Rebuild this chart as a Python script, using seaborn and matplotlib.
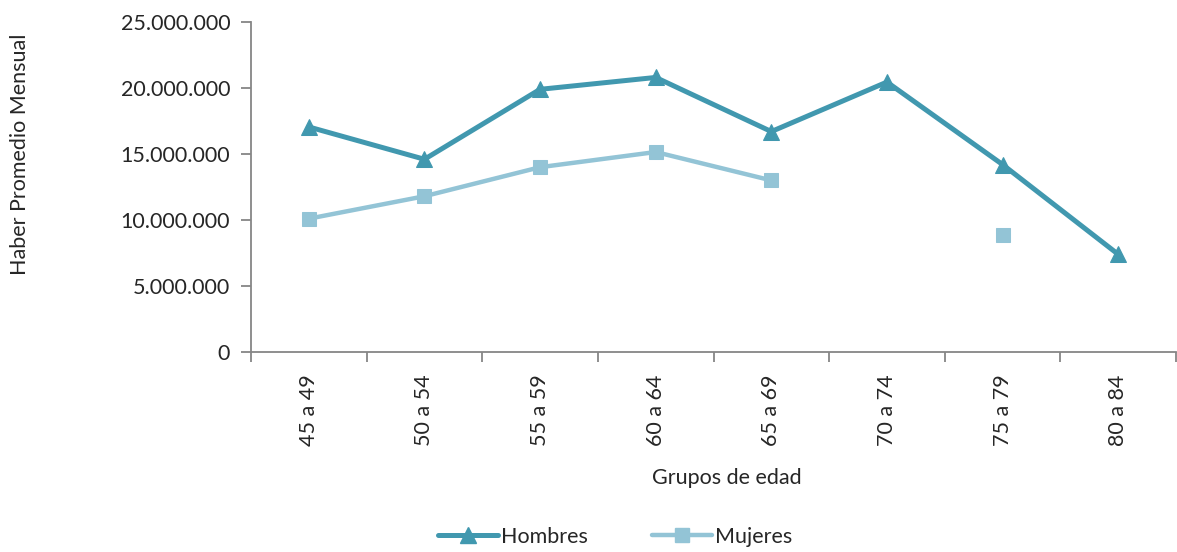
import numpy as np
import pandas as pd
import seaborn as sns
import matplotlib.pyplot as plt
from matplotlib.lines import Line2D
from matplotlib.ticker import FuncFormatter, FixedLocator

grupos = ['45 a 49', '50 a 54', '55 a 59', '60 a 64', '65 a 69', '70 a 74', '75 a 79', '80 a 84']
hombres = [17050000, 14600000, 19900000, 20800000, 16700000, 20450000, 14200000, 7400000]
mujeres = [10100000, 11800000, 14000000, 15150000, 13000000, np.nan, 8900000, np.nan]

sns.set_style('white')
plt.rcParams['font.family'] = ['Lato', 'DejaVu Sans']

df = pd.DataFrame({'pos': np.arange(len(grupos)), 'Hombres': hombres, 'Mujeres': mujeres})
# gaps: split series into segments where values are missing
df['tramo_h'] = df['Hombres'].isna().cumsum()
df['tramo_m'] = df['Mujeres'].isna().cumsum()

fig = plt.figure(figsize=(11.77, 5.52), dpi=100)
ax = fig.add_axes([251 / 1177, 1 - 352 / 552, (1176 - 251) / 1177, 330 / 552])

c_h = '#4198AF'
c_m = '#93C4D6'
sty_h = dict(color=c_h, lw=3.6, marker='^', ms=11, mec=c_h)
sty_m = dict(color=c_m, lw=3.2, marker='s', ms=10, mec=c_m)

sns.lineplot(x='pos', y='Hombres', data=df.dropna(subset=['Hombres']), units='tramo_h',
             estimator=None, ax=ax, legend=False, **sty_h)
sns.lineplot(x='pos', y='Mujeres', data=df.dropna(subset=['Mujeres']), units='tramo_m',
             estimator=None, ax=ax, legend=False, **sty_m)

ax.set_xlim(-0.5, len(grupos) - 0.5)
ax.set_ylim(0, 25000000)
ax.set_yticks(np.arange(0, 25000001, 5000000))
ax.yaxis.set_major_formatter(FuncFormatter(lambda v, p: f'{int(v):,}'.replace(',', '.')))

ax.set_xticks(np.arange(len(grupos)))
ax.set_xticklabels(grupos, rotation=90)
ax.xaxis.set_minor_locator(FixedLocator(np.arange(-0.5, len(grupos), 1)))
ax.tick_params(axis='x', which='major', length=0, pad=16, labelsize=15.5)
ax.tick_params(axis='x', which='minor', length=7, width=1.3, color='#868686', direction='out', bottom=True)
ax.tick_params(axis='y', length=7, width=1.3, color='#868686', direction='out', left=True,
               labelsize=15.5, pad=8)

for s in ['top', 'right']:
    ax.spines[s].set_visible(False)
for s in ['left', 'bottom']:
    ax.spines[s].set_color('#868686')
    ax.spines[s].set_linewidth(1.3)

ax.set_xlabel('')
ax.set_ylabel('')
fig.text(20 / 1177, 1 - 154 / 552, 'Haber Promedio Mensual', rotation=90, fontsize=15.5,
         ha='center', va='center')
fig.text(727 / 1177, 1 - 478 / 552, 'Grupos de edad', fontsize=15.5, ha='center', va='center')

handles = [Line2D([], [], **sty_h), Line2D([], [], **sty_m)]
fig.legend(handles, ['Hombres', 'Mujeres'], loc='center', bbox_to_anchor=(615 / 1177, 1 - 537 / 552),
           ncol=2, frameon=False, fontsize=15.5, handlelength=2.8, handletextpad=0.1,
           columnspacing=3.0)

fig.savefig('out.png', dpi=100)
